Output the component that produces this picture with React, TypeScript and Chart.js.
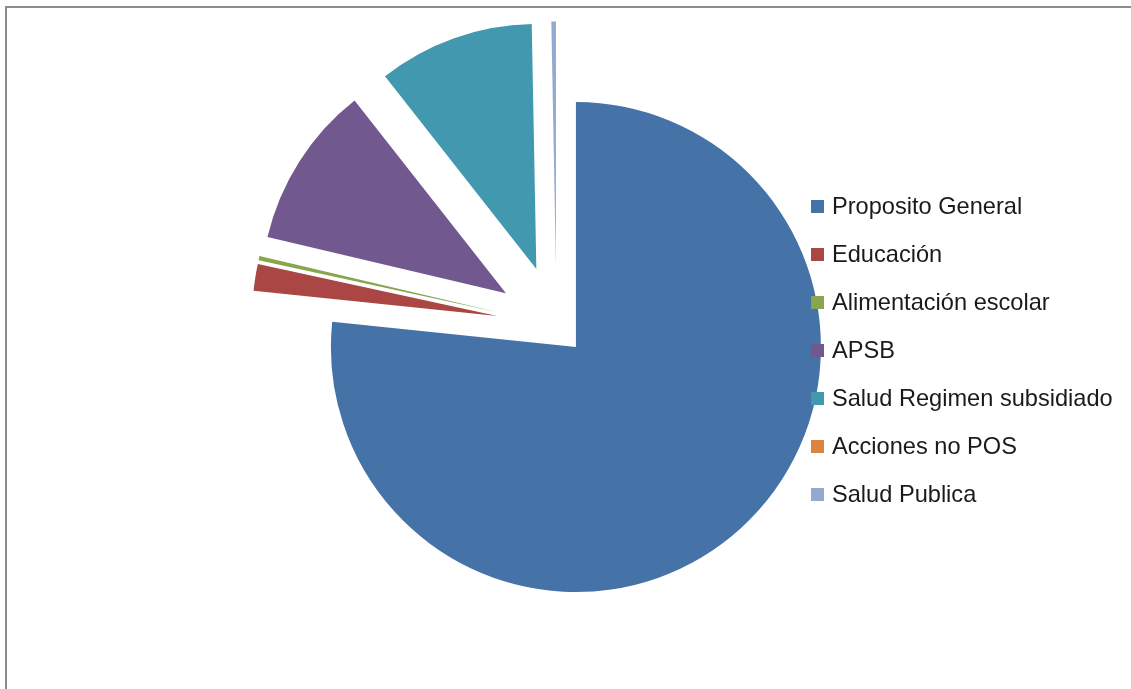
import React, { useEffect, useRef } from 'react';
import { Chart, registerables } from 'chart.js';

Chart.register(...registerables);

const categories = [
  'Proposito General',
  'Educación',
  'Alimentación escolar',
  'APSB',
  'Salud Regimen subsidiado',
  'Acciones no POS',
  'Salud Publica',
];
const values = [76.64, 1.76, 0.28, 10.72, 10.3, 0, 0.3];
const colors = ['#4572A7', '#AA4643', '#89A54E', '#71588F', '#4198AF', '#DB843D', '#93A9CF'];
const explode = [29, 60, 60, 60, 60, 60, 59];

const explodePlugin = {
  id: 'explodeSlices',
  afterDatasetsUpdate(chart: any) {
    const meta = chart.getDatasetMeta(0);
    meta.data.forEach((arc: any, i: number) => {
      const d = explode[i] || 0;
      const mid = (arc.startAngle + arc.endAngle) / 2;
      arc.x += Math.cos(mid) * d;
      arc.y += Math.sin(mid) * d;
    });
  },
};

export default function App() {
  const ref = useRef<HTMLCanvasElement>(null);

  useEffect(() => {
    if (!ref.current) return;
    const chart = new Chart(ref.current, {
      type: 'pie',
      data: {
        labels: categories,
        datasets: [
          {
            data: values,
            backgroundColor: colors,
            borderWidth: 0,
          },
        ],
      },
      options: {
        responsive: false,
        animation: false,
        events: [],
        radius: 245,
        layout: { padding: { left: 0, top: 1, right: 18, bottom: 39 } },
        plugins: {
          legend: { display: false },
          tooltip: { enabled: false },
        },
      } as any,
      plugins: [explodePlugin],
    });
    return () => chart.destroy();
  }, []);

  return (
    <div
      style={{
        position: 'absolute',
        left: 0,
        top: 0,
        width: 1131,
        height: 689,
        overflow: 'hidden',
        background: '#fff',
      }}
    >
      <div
        style={{
          position: 'absolute',
          left: 5,
          top: 6,
          width: 2000,
          height: 2000,
          borderTop: '2px solid #8c8c8c',
          borderLeft: '2px solid #8c8c8c',
        }}
      />
      <canvas
        ref={ref}
        width={1131}
        height={689}
        style={{ position: 'absolute', left: 0, top: 0, width: 1131, height: 689 }}
      />
      {categories.map((c, i) => (
        <div
          key={c}
          style={{
            position: 'absolute',
            left: 811,
            top: 207 + 48 * i - 24,
            height: 48,
            display: 'flex',
            alignItems: 'center',
            whiteSpace: 'nowrap',
          }}
        >
          <div style={{ width: 13, height: 13, background: colors[i], marginRight: 8, marginTop: -1 }} />
          <span
            style={{
              fontFamily: '"Liberation Sans", Arial, sans-serif',
              fontSize: 23.6,
              lineHeight: 1,
              color: '#1a1a1a',
            }}
          >
            {c}
          </span>
        </div>
      ))}
    </div>
  );
}
